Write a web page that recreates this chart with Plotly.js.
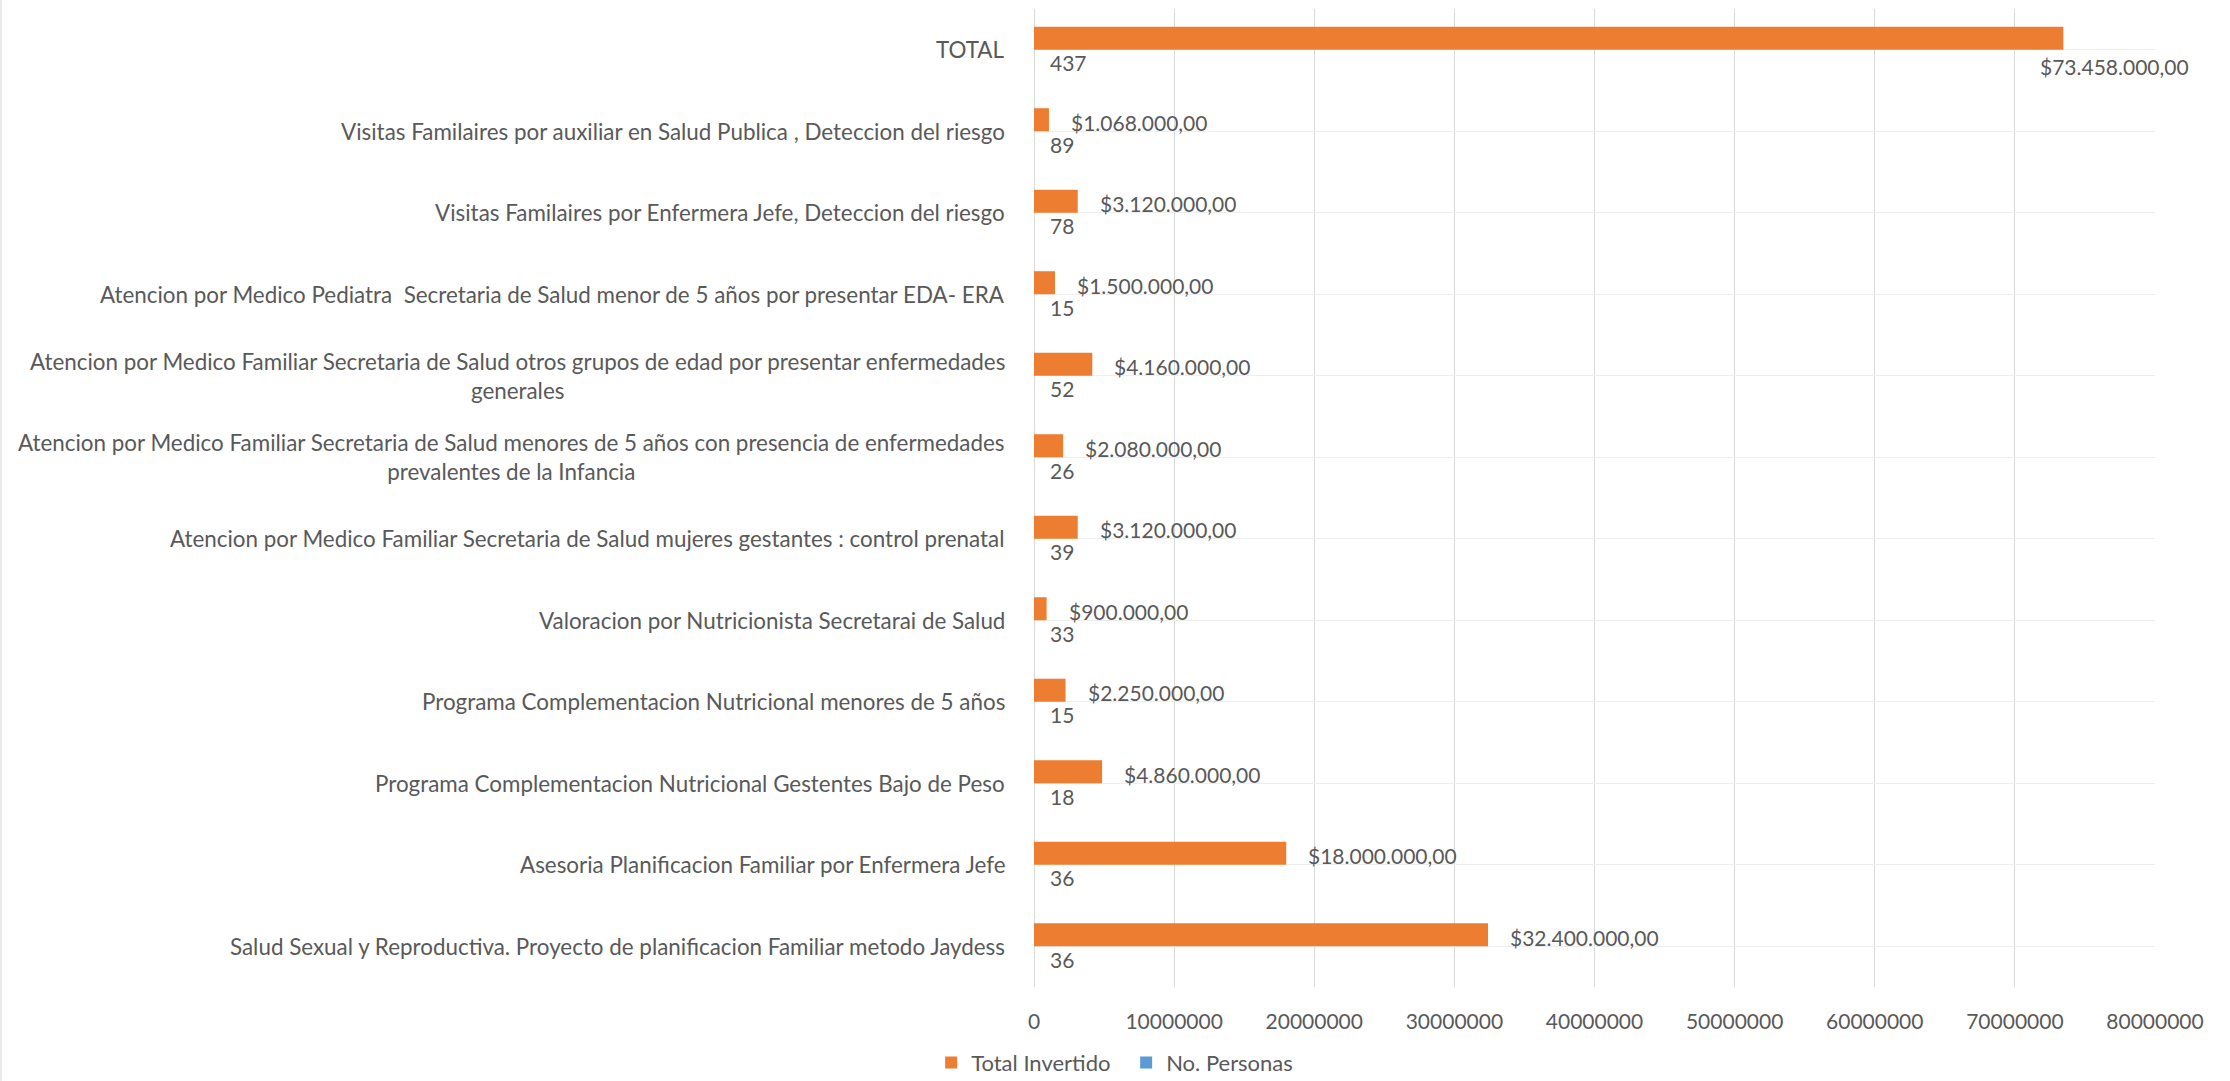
<!DOCTYPE html>
<html>
<head>
<meta charset="utf-8">
<script src="https://cdn.plot.ly/plotly-3.0.1.min.js"></script>
<style>
  html, body { margin: 0; padding: 0; background: #fff; }
  #chart { width: 2230px; height: 1081px; }
</style>
</head>
<body>
<div id="chart"></div>
<script>
const categories = [
  'TOTAL',
  'Visitas Familaires por auxiliar en Salud Publica , Deteccion del riesgo',
  'Visitas Familaires por Enfermera Jefe, Deteccion del riesgo',
  'Atencion por Medico Pediatra  Secretaria de Salud menor de 5 años por presentar EDA- ERA',
  'Atencion por Medico Familiar Secretaria de Salud otros grupos de edad por presentar enfermedades generales',
  'Atencion por Medico Familiar Secretaria de Salud menores de 5 años con presencia de enfermedades prevalentes de la Infancia',
  'Atencion por Medico Familiar Secretaria de Salud mujeres gestantes : control prenatal',
  'Valoracion por Nutricionista Secretarai de Salud',
  'Programa Complementacion Nutricional menores de 5 años',
  'Programa Complementacion Nutricional Gestentes Bajo de Peso',
  'Asesoria Planificacion Familiar por Enfermera Jefe',
  'Salud Sexual y Reproductiva. Proyecto de planificacion Familiar metodo Jaydess'
];
const categoryLabels = [
  'TOTAL',
  'Visitas Familaires por auxiliar en Salud Publica , Deteccion del riesgo',
  'Visitas Familaires por Enfermera Jefe, Deteccion del riesgo',
  'Atencion por Medico Pediatra  Secretaria de Salud menor de 5 años por presentar EDA- ERA',
  'Atencion por Medico Familiar Secretaria de Salud otros grupos de edad por presentar enfermedades<br>generales',
  'Atencion por Medico Familiar Secretaria de Salud menores de 5 años con presencia de enfermedades<br>prevalentes de la Infancia',
  'Atencion por Medico Familiar Secretaria de Salud mujeres gestantes : control prenatal',
  'Valoracion por Nutricionista Secretarai de Salud',
  'Programa Complementacion Nutricional menores de 5 años',
  'Programa Complementacion Nutricional Gestentes Bajo de Peso',
  'Asesoria Planificacion Familiar por Enfermera Jefe',
  'Salud Sexual y Reproductiva. Proyecto de planificacion Familiar metodo Jaydess'
];
const totalInvertido = [73458000, 1068000, 3120000, 1500000, 4160000, 2080000, 3120000, 900000, 2250000, 4860000, 18000000, 32400000];
const noPersonas = [437, 89, 78, 15, 52, 26, 39, 33, 15, 18, 36, 36];
const seriesNames = ['Total Invertido', 'No. Personas'];
const xTickValues = [0, 10000000, 20000000, 30000000, 40000000, 50000000, 60000000, 70000000, 80000000];
const xTickLabels = ['0', '10000000', '20000000', '30000000', '40000000', '50000000', '60000000', '70000000', '80000000'];

const FONT = 'Lato, "Open Sans", sans-serif';
const TXT = '#595959';
const ORANGE = '#ED7D31';
const BLUE = '#5B9BD5';
const XMAX = 80000000;
const LABEL_SIZE = 22.4;
const NUM_SIZE = 21;

function money(v) {
  const s = Math.round(v).toString().replace(/\B(?=(\d{3})+(?!\d))/g, '.');
  return '$' + s + ',00';
}

const traces = [
  {
    type: 'bar', orientation: 'h', name: seriesNames[0],
    y: categories, x: totalInvertido,
    marker: { color: ORANGE }, hoverinfo: 'skip'
  },
  {
    type: 'bar', orientation: 'h', name: seriesNames[1],
    y: categories, x: noPersonas,
    marker: { color: BLUE }, hoverinfo: 'skip'
  }
];

const annotations = [];
categories.forEach((c, i) => {
  annotations.push({
    xref: 'paper', yref: 'y', x: 0, y: c,
    xanchor: 'right', yanchor: 'middle', xshift: -27,
    text: categoryLabels[i], align: 'center', showarrow: false,
    font: { family: FONT, size: LABEL_SIZE, color: TXT }
  });
  const v = totalInvertido[i];
  const big = v > 0.9 * XMAX;
  annotations.push({
    xref: 'x', yref: 'y', x: v, y: c,
    xanchor: 'left', yanchor: 'middle',
    xshift: big ? -25 : 20, yshift: big ? -17 : 9,
    text: money(v), showarrow: false,
    font: { family: FONT, size: NUM_SIZE, color: TXT }
  });
  annotations.push({
    xref: 'x', yref: 'y', x: noPersonas[i], y: c,
    xanchor: 'left', yanchor: 'middle',
    xshift: 14, yshift: -13,
    text: String(noPersonas[i]), showarrow: false,
    font: { family: FONT, size: NUM_SIZE, color: TXT }
  });
});

const layout = {
  width: 2230, height: 1081,
  paper_bgcolor: '#ffffff', plot_bgcolor: '#ffffff',
  margin: { l: 1034, r: 75, t: 9, b: 94 },
  barmode: 'group', bargap: 0.435, bargroupgap: 0,
  font: { family: FONT, size: NUM_SIZE, color: TXT },
  xaxis: {
    range: [0, XMAX], tickmode: 'array', tickvals: xTickValues, ticktext: xTickLabels,
    showgrid: true, gridcolor: '#D9D9D9', gridwidth: 1,
    zeroline: true, zerolinecolor: '#D9D9D9', zerolinewidth: 1,
    showline: false, ticks: '', ticklabelstandoff: 20,
    tickfont: { family: FONT, size: NUM_SIZE, color: TXT }, fixedrange: true
  },
  yaxis: {
    type: 'category', categoryorder: 'array', categoryarray: categories,
    autorange: 'reversed', showticklabels: false, ticks: '',
    showgrid: true, gridcolor: '#EEEEEE', gridwidth: 1,
    showline: false, zeroline: false, fixedrange: true
  },
  showlegend: true,
  legend: {
    orientation: 'h', xref: 'container', yref: 'container',
    x: 0.505, xanchor: 'center', y: 0.017, yanchor: 'middle',
    font: { family: FONT, size: 22, color: TXT },
    itemwidth: 30, traceorder: 'normal', tracegroupgap: 0,
    entrywidth: 150, entrywidthmode: 'pixels'
  },
  shapes: [
    { type: 'line', xref: 'paper', yref: 'paper', x0: -0.9215, x1: -0.9215, y0: -0.0961, y1: 1.0092,
      line: { color: '#D9D9D9', width: 1 } }
  ],
  annotations: annotations
};

Plotly.newPlot('chart', traces, layout, { displayModeBar: false, staticPlot: true });
</script>
</body>
</html>
